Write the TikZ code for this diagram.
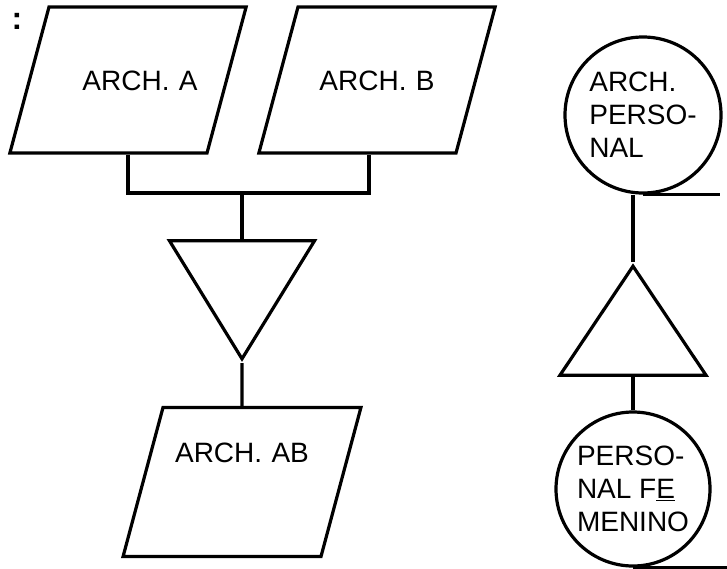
\documentclass[tikz,border=0pt]{standalone}
\usepackage{fontspec}
\setmainfont{Liberation Sans}
\usepackage{tikz}
\usetikzlibrary{shapes.geometric,positioning}
\tikzstyle{disco} = [trapezium, draw, trapezium left angle=75, trapezium right angle=105, text width=158pt, align=center, text height=83pt, text depth=63pt, inner sep=0pt]
\tikzstyle{cinta} = [circle, draw, minimum size=156pt, inner sep=0pt, align=left]
\tikzstyle{tri} = [isosceles triangle, draw, isosceles triangle stretches, inner sep=0pt]

\begin{document}
\begin{tikzpicture}[line width=3.2pt, font=\fontsize{28}{33}\selectfont]
  \useasboundingbox (0pt, 0pt) rectangle (727pt, -568pt);
  \draw (17.0pt, -21.0pt)node[inner sep=0pt, font=\fontsize{32}{32}\bfseries\selectfont](dots){:};
  \draw (128.0pt, -80.0pt)node[disco](a){\hspace*{24pt}ARCH. A};
  \draw (377.0pt, -80.0pt)node[disco](b){ARCH. B};
  \draw (242.0pt, -363.0pt)node[tri, minimum height=118pt, minimum width=145pt, rotate=-90, anchor=apex](t1){};
  \draw (242.0pt, -482.0pt)node[disco, text height=55pt, text depth=94pt](ab){ARCH. AB};
  \draw (643.0pt, -115.0pt)node[cinta](p){ARCH.\\PERSO-\\NAL};
  \draw (633.0pt, -262.0pt)node[tri, minimum height=109pt, minimum width=146pt, rotate=90, anchor=apex](t2){};
  \draw (633.0pt, -489.0pt)node[cinta, minimum size=154pt](f){PERSO-\\NAL\ F\underline{E}\\MENINO};
  \coordinate (bar) at (242.0pt, -193.0pt);
  \draw (a.south) |- (bar) -| ([xshift=-8pt]b.south);
  \draw (bar) -- (t1.west);
  \draw (t1.apex) -- (ab.north);
  \draw (p.south) -- ++(77pt, 0pt);
  \draw (t2.apex) -- (t2.apex |- p.south);
  \draw (t2.west) -- (f.north);
  \draw (f.south) -- ++(94pt, 0pt);
\end{tikzpicture}
\end{document}
